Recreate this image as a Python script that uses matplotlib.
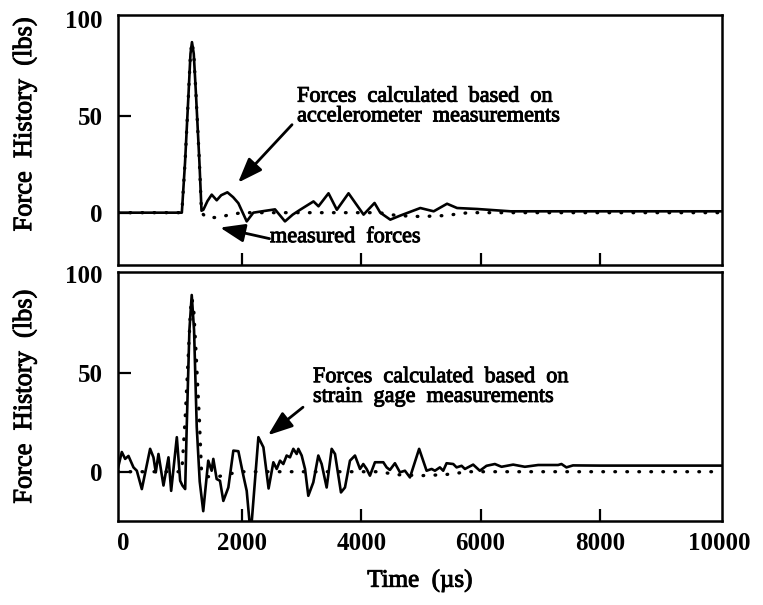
import matplotlib
matplotlib.use("Agg")
import matplotlib.pyplot as plt
import matplotlib.patheffects as pe

plt.rcParams["font.family"] = ["Liberation Serif", "DejaVu Serif"]

# ===============================
# DATA
# ===============================

# measured forces (dotted, same in both panels)
t_meas = [-80, 990, 1044, 1100, 1135, 1160, 1190, 1229, 1285, 1320, 1400, 1600,
          1800, 2000, 4300, 4600, 5000, 5400, 5800, 10050]
f_meas = [0, 0, 26, 60, 82, 88, 82, 60, 26, 0, -2.5, -2.5,
          -1, 0, 0, -1.5, -2, -1.5, 0, 0]

# forces from accelerometer measurements (top, solid)
t_acc = [-80, 990, 1044, 1100, 1135, 1160, 1190, 1229, 1285, 1320, 1351, 1420,
         1491, 1575, 1650, 1754, 1850, 1938, 2078, 2189, 2400, 2553, 2720,
         2850, 2974, 3198, 3282, 3450, 3590, 3786, 3900, 4038, 4222, 4318,
         4486, 4654, 4990, 5214, 5438, 5606, 5942, 6502, 10050]
f_acc = [0, 0, 26, 60, 82, 88, 82, 60, 26, 1, 1.5, 6,
         9.3, 6.4, 9, 10.5, 8, 4.9, -4.5, 0, 1, 1.7, -4.5,
         -1, 1.5, 5.8, 3.3, 10, 1.5, 10, 5, -1, 5, 0,
         -3.6, -1.5, 2.4, 0.7, 4.6, 2.4, 1.9, 0.7, 0.7]

# forces from strain gage measurements (bottom, solid)
t_sg = [-80, -17, 39, 95, 179, 235, 319, 458, 514, 553, 598, 682, 766, 811,
        906, 962, 1000, 1046, 1072, 1117, 1156, 1195, 1240, 1290, 1349, 1433,
        1490, 1518, 1574, 1630, 1686, 1770, 1854, 1938, 2022, 2078, 2145,
        2274, 2358, 2445, 2525, 2581, 2637, 2692, 2748, 2804, 2860, 2916,
        2944, 3000, 3056, 3111, 3195, 3279, 3335, 3419, 3503, 3559, 3659,
        3726, 3810, 3894, 3978, 4033, 4089, 4145, 4229, 4369, 4425, 4480,
        4564, 4648, 4732, 4816, 4970, 5095, 5179, 5235, 5318, 5374, 5430,
        5542, 5598, 5682, 5738, 5876, 5988, 6100, 6240, 6352, 6547, 6743,
        6966, 7301, 7357, 7440, 7550, 8000, 9000, 10050]
f_sg = [2, 10, 6.5, 8, 2.2, 0.5, -8.8, 11.6, 7.3, -0.3, 9, -7, 7.3, -9.7,
        17.5, -4.6, -7, -8.8, 22.7, 71.8, 89.6, 71.8, 22.7, -5, -20, 5.6,
        0.5, 6.5, -3.7, -4.6, -14.8, -8, 10.7, 10.4, -2, -9.7, -32,
        17.5, 12.4, -8.5, 4.8, 1.4, 5.6, 3.9, 8.2, 7.3, 11.6, 9,
        11.6, 8.2, 1.4, -12.2, -5.4, 8.2, 3.9, -8, 11.6, 9, -10.5,
        -8, 5.6, 8.2, 1.4, 3.9, 1.4, -2, 4.8, 4.8, 2.2, 0.9,
        4.3, -0.3, 0.5, -2.9, 11.6, 0.5, 1.4, 0.5, 2.2, 0.5, 4.3,
        3.9, 2.2, 3, 1.4, 3.6, 0.5, 3, 3.9, 2.5, 3.6, 2.5,
        3.4, 3.4, 3.9, 2.2, 3.2, 3.1, 3.1, 3.1]

x_ticks = [0, 2000, 4000, 6000, 8000, 10000]
y_ticks = [0, 50, 100]

# ===============================
# FIGURE
# ===============================

fig = plt.figure(figsize=(7.63, 6.05), dpi=100)
ax_top = fig.add_axes([0.1547, 0.5620, 0.7916, 0.4132])
ax_bot = fig.add_axes([0.1547, 0.1388, 0.7916, 0.4124])

dots = (0, (0.2, 3.4))
heavy = [pe.withStroke(linewidth=0.7, foreground="black")]

for ax in (ax_top, ax_bot):
    ax.plot(t_meas, f_meas, color="black", lw=2.4, linestyle=dots,
            dash_capstyle="round")
    ax.set_xlim(-80, 10050)
    ax.set_xticks(x_ticks)
    ax.set_yticks(y_ticks)
    ax.tick_params(direction="in", length=9, width=1.6, top=False,
                   right=False)
    ax.tick_params(axis="y", labelsize=18, pad=11)
    ax.tick_params(axis="x", labelsize=18, pad=8)
    for lab in ax.get_xticklabels() + ax.get_yticklabels():
        lab.set_fontweight("bold")
    # no visible tick marks at the axis ends
    xt = ax.xaxis.get_major_ticks()
    xt[0].tick1line.set_visible(False)
    xt[-1].tick1line.set_visible(False)
    ax.yaxis.get_major_ticks()[-1].tick1line.set_visible(False)
    for sp in ax.spines.values():
        sp.set_linewidth(1.8)
    ax.set_ylabel("Force  History  (lbs)", fontsize=19, path_effects=heavy)

ax_top.plot(t_acc, f_acc, color="black", lw=1.9)
ax_bot.plot(t_sg, f_sg, color="black", lw=1.9)

ax_top.set_ylim(-27, 102)
ax_bot.set_ylim(-25, 101.5)
ax_top.tick_params(axis="x", labelbottom=False)

ax_top.yaxis.set_label_coords(-0.135, 0.564)
ax_bot.yaxis.set_label_coords(-0.135, 0.5)
ax_bot.set_xlabel("Time  (µs)", fontsize=18, labelpad=10, path_effects=heavy)

# -------- annotations --------
arrow = dict(arrowstyle="-|>,head_length=0.75,head_width=0.28",
             color="black", lw=2, shrinkA=0, shrinkB=0, mutation_scale=20)

ax_top.text(2923, 64.5, "Forces  calculated  based  on\naccelerometer  measurements",
            fontsize=16, ha="left", va="top", linespacing=1.05,
            path_effects=heavy)
ax_top.annotate("", xy=(1933, 15.5), xytext=(2838, 45.4), arrowprops=arrow)
ax_top.text(2469, -12.9, "measured  forces", fontsize=16, ha="left",
            va="center", path_effects=heavy)
ax_top.annotate("", xy=(1631, -7.7), xytext=(2460, -13.4), arrowprops=arrow)

ax_bot.text(3190, 52.5, "Forces  calculated  based  on\nstrain  gage  measurements",
            fontsize=16, ha="left", va="top", linespacing=1.05,
            path_effects=heavy)
ax_bot.annotate("", xy=(2435, 18.5), xytext=(3022, 32.7), arrowprops=arrow)

fig.savefig("out.png", dpi=100)
